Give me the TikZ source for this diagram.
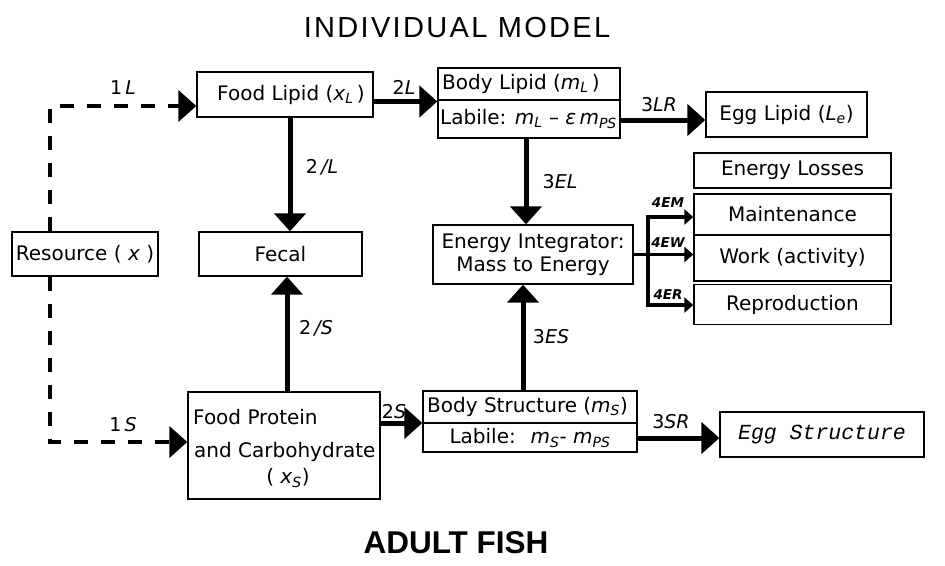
\documentclass[tikz,border=0pt]{standalone}
\usepackage{fontspec}
\setmainfont{DejaVu Sans}
\newfontfamily\titlefont[LetterSpace=8]{Liberation Sans}
\newfontfamily\boldtitlefont{Liberation Sans}
\newfontfamily\eggfont{Liberation Mono}
\usetikzlibrary{arrows.meta}
\newcommand\vsub[2]{\textit{#1}\textsubscript{\textit{#2}}}
\begin{document}
\begin{tikzpicture}[x=1pt,y=-1pt,
  box/.style={draw, line width=1.3pt, inner sep=0pt},
  txt/.style={font=\fontsize{20}{23}\selectfont, inner sep=0pt},
  flow/.style={line width=5pt, -{Triangle[length=18pt,width=31pt]}},
  dflow/.style={line width=4pt, dash pattern=on 14pt off 13pt, -{Triangle[length=18pt,width=31pt]}},
  tflow/.style={line width=3.5pt, -{Triangle[length=9pt,width=15pt]}},
  lbl/.style={font=\fontsize{19}{21}\selectfont\itshape, inner sep=0pt},
  slbl/.style={font=\fontsize{13.5}{15}\selectfont\bfseries\itshape, inner sep=0pt}]
\useasboundingbox (0,0) rectangle (945,565);

% titles
\node[font=\titlefont\fontsize{29}{32}\selectfont, inner sep=0pt] (title) at (457,28) {INDIVIDUAL MODEL};
\node[font=\boldtitlefont\bfseries\fontsize{31.5}{34}\selectfont, inner sep=0pt] (adult) at (456,543) {ADULT FISH};

% boxes
\node[box, txt, minimum width=176pt, minimum height=45pt] (foodlipid) at (285,94.5) {\hspace*{12pt}Food Lipid (\vsub{x}{L}\,)};
\node[box, minimum width=182pt, minimum height=70pt] (bodylipid) at (529,103) {};
\draw[line width=1.3pt] (bodylipid.west |- 0,100) -- (bodylipid.east |- 0,100);
\node[txt, anchor=west] (bl1) at (442,84) {Body Lipid (\vsub{m}{L}\,)};
\node[txt, anchor=west] (bl2) at (440,119) {Labile: \vsub{m}{L} – \textit{ε}\,\vsub{m}{PS}};
\node[box, txt, minimum width=161pt, minimum height=45pt] (egglipid) at (786.5,114.5) {Egg Lipid (\vsub{L}{e})};

\node[box, txt, minimum width=197pt, minimum height=35pt] (losses) at (792.5,170.5) {Energy Losses};
\node[box, txt, minimum width=197pt, minimum height=41pt] (maint) at (792.5,214.5) {Maintenance};
\node[box, txt, minimum width=197pt, minimum height=46pt] (work) at (792.5,258) {Work (activity)};
\node[box, txt, minimum width=197pt, minimum height=40pt] (repro) at (792.5,304.5) {Reproduction};

\node[box, txt, align=center, minimum width=200pt, minimum height=59pt] (integ) at (533,254.5) {Energy Integrator:\\Mass to Energy};

\node[box, txt, minimum width=146pt, minimum height=44pt] (resource) at (85,254) {Resource ( \textit{x} )};
\node[box, txt, minimum width=163pt, minimum height=44pt] (fecal) at (280.5,254) {Fecal};

\node[box, minimum width=192pt, minimum height=107pt] (foodprot) at (284,445.5) {};
\node[txt, anchor=west] (fp1) at (193,417) {Food Protein};
\node[txt, anchor=west] (fp2) at (194,452) {and Carbohydrate};
\node[txt] (fp3) at (288,478) {( \vsub{x}{S})};

\node[box, minimum width=214pt, minimum height=61pt] (bodystruct) at (530,421.5) {};
\draw[line width=1.3pt] (bodystruct.west |- 0,423) -- (bodystruct.east |- 0,423);
\node[txt, anchor=west] (bs1) at (427,407) {Body Structure (\vsub{m}{S})};
\node[txt] (bs2) at (530,438) {Labile: \ \vsub{m}{S}- \vsub{m}{PS}};

\node[box, minimum width=204pt, minimum height=45pt, font=\eggfont\itshape\fontsize{21.5}{24}\selectfont] (eggstruct) at (822,434.5) {Egg Structure};

% helper coordinates
\coordinate (rx) at (50,0);
\coordinate (tr) at (648,0);
\coordinate (a2L) at ([yshift=-7pt]foodlipid.east);
\coordinate (a2S) at ([yshift=22.5pt]foodprot.east);
\coordinate (a3LR) at ([yshift=-17pt]bodylipid.east);
\coordinate (a3SR) at ([yshift=-16.5pt]bodystruct.east);
\coordinate (a4EM) at ([yshift=-2.5pt]maint.west);
\coordinate (a4ER) at ([yshift=-0.5pt]repro.west);

% connectors
\draw[dflow] (resource.north -| rx) |- ([yshift=-11.5pt]foodlipid.west);
\draw[dflow] (resource.south -| rx) |- ([yshift=3.5pt]foodprot.west);
\draw[flow] (a2L) -- (a2L -| bodylipid.west);
\draw[flow] ([xshift=5pt]foodlipid.south) -- ([xshift=5pt]foodlipid.south |- fecal.north);
\draw[flow] ([xshift=3pt]foodprot.north) -- ([xshift=3pt]foodprot.north |- fecal.south);
\draw[flow] (a2S) -- (a2S -| bodystruct.west);
\draw[flow] ([xshift=-3pt]bodylipid.south) -- ([xshift=-3pt]bodylipid.south |- integ.north);
\draw[flow] ([xshift=-7pt]bodystruct.north) -- ([xshift=-7pt]bodystruct.north |- integ.south);
\draw[flow] (a3LR) -- (a3LR -| egglipid.west);
\draw[flow] (a3SR) -- (a3SR -| eggstruct.west);
\draw[tflow] (integ.east) -- (integ.east -| work.west);
\draw[tflow] (integ.east -| tr) |- (a4EM);
\draw[tflow] (integ.east -| tr) |- (a4ER);

% labels
\node[lbl] (l1L) at (123,88) {\upshape 1\,\itshape L};
\node[lbl] (l1S) at (123,425) {\upshape 1\,\itshape S};
\node[lbl] (l2L) at (404,87) {\upshape 2\itshape L};
\node[lbl] (l2IL) at (322,167) {\upshape 2\,\itshape /L};
\node[lbl] (l2IS) at (316,328) {\upshape 2\,\itshape /S};
\node[lbl] (l2S) at (394,412) {\upshape 2\itshape S};
\node[lbl] (l3EL) at (560,182) {\upshape 3\itshape EL};
\node[lbl] (l3ES) at (551,337) {\upshape 3\itshape ES};
\node[lbl] (l3LR) at (659,105) {\upshape 3\itshape LR};
\node[lbl] (l3SR) at (671,422) {\upshape 3\itshape SR};
\node[slbl] (l4EM) at (668,203) {4EM};
\node[slbl] (l4EW) at (668,243) {4EW};
\node[slbl] (l4ER) at (668,295) {4ER};
\end{tikzpicture}
\end{document}
